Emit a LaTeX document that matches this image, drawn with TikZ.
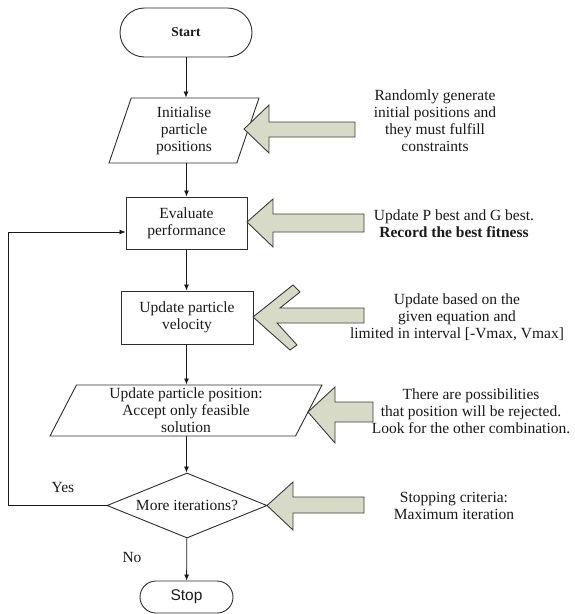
\documentclass[tikz,border=0pt]{standalone}
\usepackage{fontspec}
\setmainfont{Liberation Serif}
\newfontfamily\arialfont{Liberation Sans}
\usetikzlibrary{shapes.geometric,arrows.meta}
\definecolor{arrowfill}{RGB}{214,218,198}
\definecolor{arrowline}{RGB}{60,60,60}
\definecolor{boxline}{RGB}{45,45,45}
\begin{document}
\begin{tikzpicture}[x=1pt,y=-1pt,
  every node/.style={font=\fontsize{15.5}{17}\selectfont, text=black!90},
  box/.style={draw=boxline, line width=0.9pt, align=center, inner sep=0pt},
  terminal/.style={box, rectangle, rounded corners=#1},
  para/.style={box, trapezium, trapezium stretches body=true},
  decision/.style={box, diamond, aspect=2.46},
  note/.style={align=center, inner sep=0pt},
  conn/.style={draw=black!90, line width=0.8pt, -{Latex[length=6pt,width=5pt]}},
  bigarrow/.style={draw=arrowline, fill=arrowfill, line width=0.9pt, line join=miter}
]
\useasboundingbox (0,0) rectangle (574,614);

% flow nodes
\node[terminal=24.5pt, minimum width=132pt, minimum height=49pt] (start) at (186,32.5)
  {\fontsize{13.5}{16}\selectfont\bfseries Start};
\node[para, trapezium left angle=65.2, trapezium right angle=114.8,
      minimum width=150pt, minimum height=65pt] (init) at (184,130.5)
  {Initialise\\particle\\positions};
\node[box, rectangle, minimum width=121pt, minimum height=52pt] (eval) at (186.5,223)
  {Evaluate\\performance};
\node[box, rectangle, minimum width=132pt, minimum height=53pt] (vel) at (187,317.5)
  {Update particle\\velocity};
\node[para, trapezium left angle=59.5, trapezium right angle=120.5,
      minimum width=272pt, minimum height=51pt] (pos) at (186,410.5)
  {Update particle position:\\Accept only feasible\\solution};
\node[decision, minimum width=160pt, minimum height=65pt] (dec) at (187,505.5)
  {More iterations?};
\node[terminal=16pt, minimum width=93pt, minimum height=32pt] (stop) at (186.5,597)
  {\arialfont\fontsize{15.5}{17}\selectfont Stop};

% connectors
\draw[conn] (start) -- (start |- init.north);
\draw[conn] (init.south -| eval) -- (eval);
\draw[conn] (eval) -- (vel.north -| eval);
\draw[conn] (vel.south -| eval) -- (pos.north -| eval);
\draw[conn] (pos.south -| eval) -- (dec.north -| eval);
\draw[conn] (dec) -- (stop);
\coordinate (fbl) at (8,0);
\coordinate (evin) at ([yshift=-9pt]eval.west);
\draw[conn] (dec.west) -- (dec.west -| fbl) -- (fbl |- evin) -- (evin);

\node[note] (yes) at (63,487) {Yes};
\node[note] (no) at (132,557) {No};

% big block arrows
\draw[bigarrow] (244,129) -- (269,105) -- (269,122) -- (355,122) -- (355,137)
  -- (269,137) -- (269,153) -- cycle;
\draw[bigarrow] (247,222) -- (273,199) -- (273,214) -- (364,214) -- (364,232)
  -- (273,232) -- (273,247) -- cycle;
\draw[bigarrow] (253,317) -- (293,285) -- (300,292) -- (280,308) -- (364,308)
  -- (364,323) -- (277,323) -- (297,345) -- (290,350) -- cycle;
\draw[bigarrow] (308,412) -- (335,387) -- (335,402) -- (373,402) -- (373,422)
  -- (335,422) -- (335,443) -- cycle;
\draw[bigarrow] (267,505.5) -- (293,482) -- (293,497) -- (364,497) -- (364,513)
  -- (293,513) -- (293,530) -- cycle;

% notes
\node[note] (n1) at (435,121) {Randomly generate\\initial positions and\\they must fulfill\\constraints};
\node[note] (n2) at (454,223.5) {Update P best and G best.\\\textbf{Record the best fitness}};
\node[note] (n3) at (457,317) {Update based on the\\given equation and\\limited in interval [-Vmax, Vmax]};
\node[note] (n4) at (471,411) {There are possibilities\\that position will be rejected.\\Look for the other combination.};
\node[note] (n5) at (454,505.5) {Stopping criteria:\\Maximum iteration};
\end{tikzpicture}
\end{document}
